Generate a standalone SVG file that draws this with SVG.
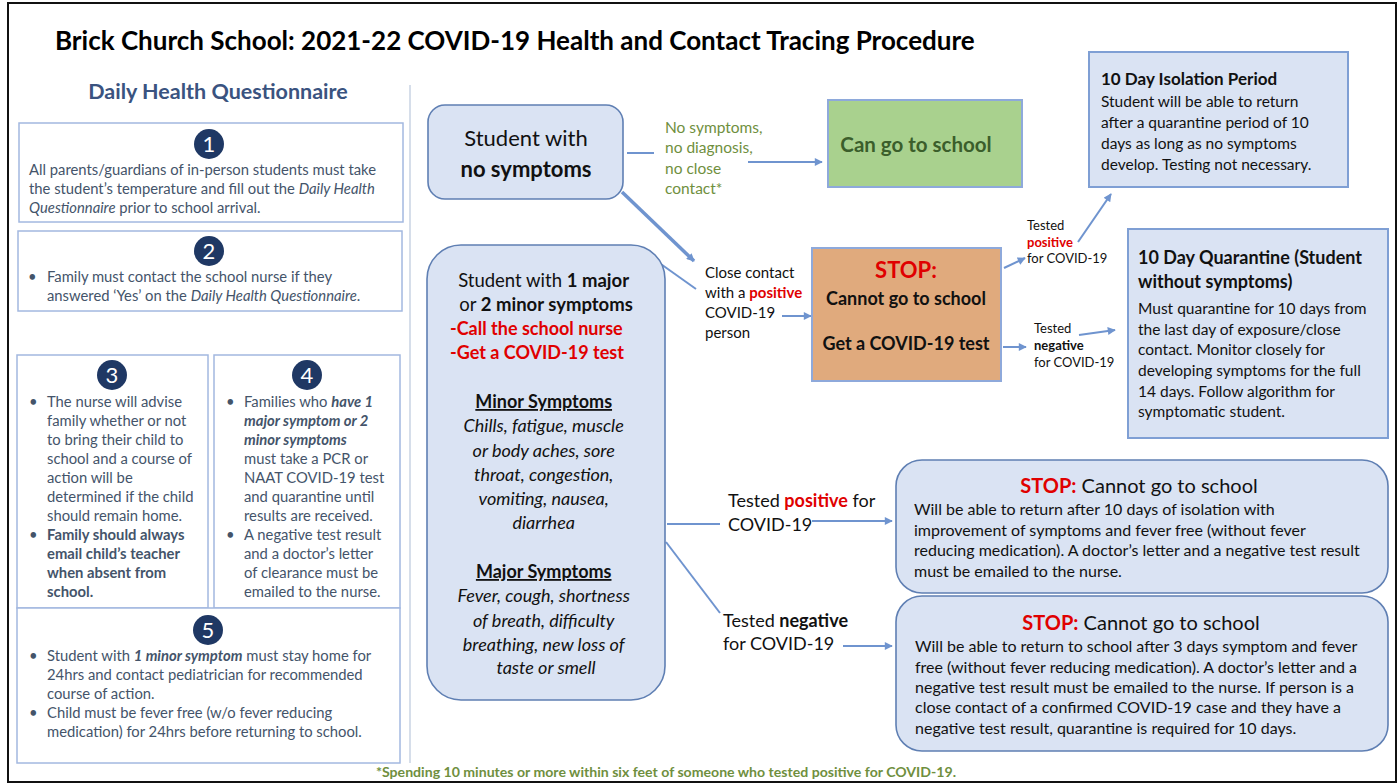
<svg xmlns="http://www.w3.org/2000/svg" width="1400" height="784" viewBox="0 0 1400 784">
  <defs>
    <marker id="arrow" viewBox="0 0 10 10" refX="9" refY="5" markerWidth="9" markerHeight="8" markerUnits="userSpaceOnUse" orient="auto">
      <path d="M0,0 L10,5 L0,10 z" fill="#6F94CF"/>
    </marker>
    <style>
      text { font-family: Lato, "Open Sans", "Liberation Sans", sans-serif; }
      .title { font-size: 26px; font-weight: 700; fill: #000; }
      .panel-head { font-size: 21.5px; font-weight: 700; fill: #3A5380; }
      .qbox { fill: #fff; stroke: #A3B8E0; stroke-width: 1.5; }
      .badge { fill: #1F3864; }
      .badge-num { font-size: 22px; fill: #fff; text-anchor: middle; }
      .qtext { font-size: 14.8px; fill: #44546A; }
      .node { fill: #DAE3F3; stroke: #5F7FB3; stroke-width: 1.6; }
      .info { fill: #DAE3F3; stroke: #7F9FD4; stroke-width: 2; }
      .go { fill: #A9D18E; stroke: #8EA9DB; stroke-width: 2; }
      .stop { fill: #E0AA7D; stroke: #8EA9DB; stroke-width: 2; }
      .red { fill: #E00000; }
      .b { font-weight: 700; }
      .i { font-style: italic; }
      .green { fill: #6F8F3E; }
      .lbl { fill: #111; }
      .conn { stroke: #6F94CF; stroke-width: 2; fill: none; }
      .conn-thick { stroke: #6F94CF; stroke-width: 3.5; fill: none; }
    </style>
  </defs>

  <rect x="0" y="0" width="1400" height="784" fill="#fff"/>
  <rect x="8" y="3" width="1388" height="779" fill="none" stroke="#111" stroke-width="2"/>

  <text class="title" x="55" y="50">Brick Church School: 2021-22 COVID-19 Health and Contact Tracing Procedure</text>

  <!-- left column: questionnaire steps -->
  <line x1="410" y1="85" x2="410" y2="763" stroke="#C9D3E3" stroke-width="1.5"/>
  <text class="panel-head" x="218" y="99" text-anchor="middle">Daily Health Questionnaire</text>

  <g id="step1">
    <rect class="qbox" x="19" y="123" width="384" height="99"/>
    <circle class="badge" cx="209" cy="144" r="15"/>
    <text class="badge-num" x="209" y="152">1</text>
    <text class="qtext" x="29">
      <tspan x="29" y="175">All parents/guardians of in-person students must take</tspan>
      <tspan x="29" y="194">the student’s temperature and fill out the <tspan class="i">Daily Health</tspan></tspan>
      <tspan x="29" y="213"><tspan class="i">Questionnaire</tspan> prior to school arrival.</tspan>
    </text>
  </g>

  <g id="step2">
    <rect class="qbox" x="18" y="231" width="384" height="80"/>
    <circle class="badge" cx="209" cy="251" r="15"/>
    <text class="badge-num" x="209" y="259">2</text>
    <text class="qtext">
      <tspan x="28" y="282">•</tspan>
      <tspan x="47" y="282">Family must contact the school nurse if they</tspan>
      <tspan x="47" y="301">answered ‘Yes’ on the <tspan class="i">Daily Health Questionnaire</tspan>.</tspan>
    </text>
  </g>

  <g id="step3">
    <rect class="qbox" x="17" y="355" width="191" height="253"/>
    <circle class="badge" cx="112" cy="375" r="15"/>
    <text class="badge-num" x="112" y="383">3</text>
    <text class="qtext">
      <tspan x="29" y="407">•</tspan>
      <tspan x="47" y="407">The nurse will advise</tspan>
      <tspan x="47" y="426">family whether or not</tspan>
      <tspan x="47" y="445">to bring their child to</tspan>
      <tspan x="47" y="464">school and a course of</tspan>
      <tspan x="47" y="483">action will be</tspan>
      <tspan x="47" y="502">determined if the child</tspan>
      <tspan x="47" y="521">should remain home.</tspan>
      <tspan x="29" y="540">•</tspan>
      <tspan x="47" y="540" class="b">Family should always</tspan>
      <tspan x="47" y="559" class="b">email child’s teacher</tspan>
      <tspan x="47" y="578" class="b">when absent from</tspan>
      <tspan x="47" y="597" class="b">school.</tspan>
    </text>
  </g>

  <g id="step4">
    <rect class="qbox" x="214" y="355" width="186" height="253"/>
    <circle class="badge" cx="307" cy="375" r="15"/>
    <text class="badge-num" x="307" y="383">4</text>
    <text class="qtext">
      <tspan x="226" y="407">•</tspan>
      <tspan x="244" y="407">Families who <tspan class="b i">have 1</tspan></tspan>
      <tspan x="244" y="426" class="b i">major symptom or 2</tspan>
      <tspan x="244" y="445" class="b i">minor symptoms</tspan>
      <tspan x="244" y="464">must take a PCR or</tspan>
      <tspan x="244" y="483">NAAT COVID-19 test</tspan>
      <tspan x="244" y="502">and quarantine until</tspan>
      <tspan x="244" y="521">results are received.</tspan>
      <tspan x="226" y="540">•</tspan>
      <tspan x="244" y="540">A negative test result</tspan>
      <tspan x="244" y="559">and a doctor’s letter</tspan>
      <tspan x="244" y="578">of clearance must be</tspan>
      <tspan x="244" y="597">emailed to the nurse.</tspan>
    </text>
  </g>

  <g id="step5">
    <rect class="qbox" x="17" y="608" width="383" height="155"/>
    <circle class="badge" cx="208" cy="630" r="15"/>
    <text class="badge-num" x="208" y="638">5</text>
    <text class="qtext">
      <tspan x="29" y="661">•</tspan>
      <tspan x="47" y="661">Student with <tspan class="b i">1 minor symptom</tspan> must stay home for</tspan>
      <tspan x="47" y="680">24hrs and contact pediatrician for recommended</tspan>
      <tspan x="47" y="699">course of action.</tspan>
      <tspan x="29" y="718">•</tspan>
      <tspan x="47" y="718">Child must be fever free (w/o fever reducing</tspan>
      <tspan x="47" y="737">medication) for 24hrs before returning to school.</tspan>
    </text>
  </g>

  <!-- connectors -->
  <g id="connectors">
    <line class="conn" x1="627" y1="153" x2="654" y2="153"/>
    <line class="conn" x1="748" y1="162" x2="822" y2="162" marker-end="url(#arrow)"/>
    <line class="conn-thick" x1="622" y1="192" x2="694" y2="261" marker-end="url(#arrow)"/>
    <line class="conn" x1="658" y1="262" x2="696" y2="289"/>
    <line class="conn" x1="782" y1="316" x2="811" y2="316" marker-end="url(#arrow)"/>
    <line class="conn" x1="1004" y1="268" x2="1025" y2="258" marker-end="url(#arrow)"/>
    <line class="conn" x1="1078" y1="242" x2="1111" y2="194" marker-end="url(#arrow)"/>
    <line class="conn" x1="1003" y1="347" x2="1026" y2="347" marker-end="url(#arrow)"/>
    <line class="conn" x1="1079" y1="335" x2="1115" y2="330" marker-end="url(#arrow)"/>
    <line class="conn" x1="667" y1="524" x2="720" y2="524"/>
    <line class="conn" x1="812" y1="521" x2="892" y2="521" marker-end="url(#arrow)"/>
    <line class="conn" x1="666" y1="542" x2="720" y2="613"/>
    <line class="conn" x1="843" y1="646" x2="892" y2="646" marker-end="url(#arrow)"/>
  </g>

  <!-- connector labels -->
  <g id="labels">
    <text class="green" font-size="15.5">
      <tspan x="665" y="133">No symptoms,</tspan>
      <tspan x="665" y="153">no diagnosis,</tspan>
      <tspan x="665" y="174">no close</tspan>
      <tspan x="665" y="194">contact*</tspan>
    </text>
    <text class="lbl" font-size="15">
      <tspan x="705" y="278">Close contact</tspan>
      <tspan x="705" y="298">with a <tspan class="red b">positive</tspan></tspan>
      <tspan x="705" y="318">COVID-19</tspan>
      <tspan x="705" y="338">person</tspan>
    </text>
    <text class="lbl" font-size="13">
      <tspan x="1027" y="230">Tested</tspan>
      <tspan x="1027" y="247" class="red b">positive</tspan>
      <tspan x="1027" y="263">for COVID-19</tspan>
    </text>
    <text class="lbl" font-size="13">
      <tspan x="1034" y="333">Tested</tspan>
      <tspan x="1034" y="350" class="b">negative</tspan>
      <tspan x="1034" y="367">for COVID-19</tspan>
    </text>
    <text class="lbl" font-size="18">
      <tspan x="728" y="507">Tested <tspan class="red b">positive</tspan> for</tspan>
      <tspan x="728" y="531">COVID-19</tspan>
    </text>
    <text class="lbl" font-size="18">
      <tspan x="723" y="627">Tested <tspan class="b">negative</tspan></tspan>
      <tspan x="723" y="650">for COVID-19</tspan>
    </text>
  </g>

  <g id="no-symptoms">
    <rect class="node" x="428" y="105" width="195" height="94" rx="17"/>
    <text x="526" y="146" font-size="22" text-anchor="middle" fill="#111">Student with</text>
    <text x="526" y="177" font-size="22" text-anchor="middle" fill="#111" class="b">no symptoms</text>
  </g>

  <g id="can-go">
    <rect class="go" x="828" y="100" width="194" height="87"/>
    <text x="916" y="152" font-size="20.5" text-anchor="middle" class="b" fill="#3B5E2B">Can go to school</text>
  </g>

  <g id="symptoms">
    <rect class="node" x="427" y="245" width="238" height="455" rx="34"/>
    <text font-size="18.5" fill="#111" text-anchor="middle">
      <tspan x="546" y="287">Student with <tspan class="b">1 major</tspan></tspan>
      <tspan x="546" y="311">or <tspan class="b">2 minor symptoms</tspan></tspan>
    </text>
    <text font-size="18" class="red b">
      <tspan x="450" y="335">-Call the school nurse</tspan>
      <tspan x="450" y="359">-Get a COVID-19 test</tspan>
    </text>
    <text font-size="18" fill="#111" text-anchor="middle">
      <tspan x="546" y="408" class="b" text-decoration="underline">Minor Symptoms</tspan>
      <tspan x="546" y="432" class="i">Chills, fatigue, muscle</tspan>
      <tspan x="546" y="457" class="i">or body aches, sore</tspan>
      <tspan x="546" y="481" class="i">throat, congestion,</tspan>
      <tspan x="546" y="505" class="i">vomiting, nausea,</tspan>
      <tspan x="546" y="529" class="i">diarrhea</tspan>
      <tspan x="546" y="578" class="b" text-decoration="underline">Major Symptoms</tspan>
      <tspan x="546" y="602" class="i">Fever, cough, shortness</tspan>
      <tspan x="546" y="627" class="i">of breath, difficulty</tspan>
      <tspan x="546" y="651" class="i">breathing, new loss of</tspan>
      <tspan x="546" y="674" class="i">taste or smell</tspan>
    </text>
  </g>

  <g id="stop-test">
    <rect class="stop" x="812" y="248" width="189" height="133"/>
    <text x="906" y="278" font-size="22" text-anchor="middle" class="red b">STOP:</text>
    <text x="906" y="305" font-size="18" text-anchor="middle" class="b" fill="#111">Cannot go to school</text>
    <text x="906" y="350" font-size="18" text-anchor="middle" class="b" fill="#111">Get a COVID-19 test</text>
  </g>

  <g id="isolation">
    <rect class="info" x="1089" y="52" width="259" height="135"/>
    <text x="1101" y="85" font-size="17" class="b" fill="#111">10 Day Isolation Period</text>
    <text font-size="15.5" fill="#111">
      <tspan x="1101" y="107">Student will be able to return</tspan>
      <tspan x="1101" y="128">after a quarantine period of 10</tspan>
      <tspan x="1101" y="149">days as long as no symptoms</tspan>
      <tspan x="1101" y="170">develop. Testing not necessary.</tspan>
    </text>
  </g>

  <g id="quarantine">
    <rect class="info" x="1128" y="229" width="260" height="209"/>
    <text font-size="18" class="b" fill="#111">
      <tspan x="1138" y="264">10 Day Quarantine (Student</tspan>
      <tspan x="1138" y="288">without symptoms)</tspan>
    </text>
    <text font-size="15.5" fill="#111">
      <tspan x="1138" y="314">Must quarantine for 10 days from</tspan>
      <tspan x="1138" y="335">the last day of exposure/close</tspan>
      <tspan x="1138" y="355">contact. Monitor closely for</tspan>
      <tspan x="1138" y="376">developing symptoms for the full</tspan>
      <tspan x="1138" y="397">14 days. Follow algorithm for</tspan>
      <tspan x="1138" y="417">symptomatic student.</tspan>
    </text>
  </g>

  <g id="positive-result">
    <rect class="node" x="896" y="460" width="492" height="133" rx="26"/>
    <text x="1139" y="493" font-size="20" text-anchor="middle" fill="#111"><tspan class="red b">STOP:</tspan>  Cannot go to school</text>
    <text font-size="16" fill="#111">
      <tspan x="914" y="515">Will be able to return after 10 days of isolation with</tspan>
      <tspan x="914" y="536">improvement of symptoms and fever free (without fever</tspan>
      <tspan x="914" y="556">reducing medication). A doctor’s letter and a negative test result</tspan>
      <tspan x="914" y="577">must be emailed to the nurse.</tspan>
    </text>
  </g>

  <g id="negative-result">
    <rect class="node" x="896" y="596" width="492" height="155" rx="26"/>
    <text x="1141" y="630" font-size="20" text-anchor="middle" fill="#111"><tspan class="red b">STOP:</tspan> Cannot go to school</text>
    <text font-size="16" fill="#111">
      <tspan x="915" y="652">Will be able to return to school after 3 days symptom and fever</tspan>
      <tspan x="915" y="673">free (without fever reducing medication). A doctor’s letter and a</tspan>
      <tspan x="915" y="693">negative test result must be emailed to the nurse. If person is a</tspan>
      <tspan x="915" y="713">close contact of a confirmed COVID-19 case and they have a</tspan>
      <tspan x="915" y="734">negative test result, quarantine is required for 10 days.</tspan>
    </text>
  </g>

  <text x="666" y="777" font-size="14" text-anchor="middle" class="b green" textLength="580" lengthAdjust="spacingAndGlyphs">*Spending 10 minutes or more within six feet of someone who tested positive for COVID-19.</text>
</svg>
